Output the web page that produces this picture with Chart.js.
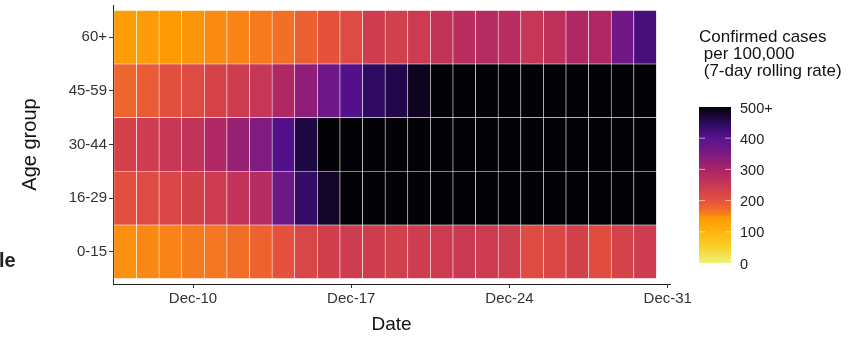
<!DOCTYPE html>
<html lang="en">
<head>
<meta charset="UTF-8">
<title>Confirmed cases per 100,000 by age group</title>
<script src="https://cdn.jsdelivr.net/npm/chart.js"></script>
<style>
  html, body { margin: 0; padding: 0; background: #fff; }
</style>
</head>
<body>
<canvas id="heatmap" width="858" height="338"></canvas>
<script>
// December days shown as tiles
const days = [7, 8, 9, 10, 11, 12, 13, 14, 15, 16, 17, 18, 19, 20, 21, 22, 23, 24, 25, 26, 27, 28, 29, 30];
const ageGroups = ['0-15', '16-29', '30-44', '45-59', '60+'];

// 7-day rolling rate per 100,000 (500 = 500+)
const rate0to15  = [150, 153, 156, 160, 165, 172, 182, 200, 222, 236, 242, 240, 235, 240, 245, 248, 245, 238, 212, 218, 232, 208, 230, 242];
const rate16to29 = [205, 212, 222, 232, 245, 262, 280, 370, 440, 480, 500, 500, 500, 500, 500, 500, 500, 500, 500, 500, 500, 500, 500, 500];
const rate30to44 = [232, 242, 252, 262, 290, 320, 345, 405, 465, 500, 500, 500, 500, 500, 500, 500, 500, 500, 500, 500, 500, 500, 500, 500];
const rate45to59 = [180, 190, 205, 213, 228, 240, 255, 290, 330, 370, 405, 445, 460, 485, 500, 500, 500, 500, 500, 500, 500, 500, 500, 500];
const rate60plus = [138, 141, 144, 147, 152, 155, 160, 170, 185, 200, 212, 240, 235, 245, 262, 275, 280, 275, 255, 268, 290, 290, 365, 420];

const dateTicks = [10, 17, 24, 31];
const legendTicks = [0, 100, 200, 300, 400, 500];

// colour scale (inferno-like, reversed)
const colourStops = [
  [0, '#eef27a'], [50, '#f9d12a'], [100, '#fdb40e'], [145, '#fd9a06'], [160, '#f67a1e'],
  [200, '#e4513c'], [250, '#c93854'], [300, '#a82468'], [350, '#7c1a82'], [400, '#58128e'],
  [450, '#2a0a5c'], [500, '#030206']
];

function hexToRgb(h) {
  return [parseInt(h.slice(1, 3), 16), parseInt(h.slice(3, 5), 16), parseInt(h.slice(5, 7), 16)];
}

function fillFor(v) {
  v = Math.max(0, Math.min(500, v));
  for (let i = 1; i < colourStops.length; i++) {
    const [v1, c1] = colourStops[i];
    if (v <= v1) {
      const [v0, c0] = colourStops[i - 1];
      const t = (v - v0) / (v1 - v0);
      const a = hexToRgb(c0), b = hexToRgb(c1);
      const c = a.map((x, k) => Math.round(x + (b[k] - x) * t));
      return `rgb(${c[0]},${c[1]},${c[2]})`;
    }
  }
  return colourStops[colourStops.length - 1][1];
}

const rows = [rate0to15, rate16to29, rate30to44, rate45to59, rate60plus];
const FONT = '"Liberation Sans", Arial, sans-serif';

const datasets = rows.map((vals, r) => ({
  label: ageGroups[r],
  data: days.map(d => ({ y: r + 1, x: [d - 0.5, d + 0.5] })),
  backgroundColor: vals.map(fillFor),
  borderColor: 'rgba(255,255,255,0.7)',
  borderWidth: 0.6,
  borderSkipped: false,
  grouped: false,
  barPercentage: 1,
  categoryPercentage: 1
}));

// legend: title, colour bar and labels
const colourBar = {
  id: 'colourBar',
  afterDraw(chart) {
    const ctx = chart.ctx;
    const x0 = 699, w = 32, top = 107, bottom = 263;
    ctx.save();
    ctx.fillStyle = '#111';
    ctx.font = '17px ' + FONT;
    ctx.textAlign = 'left';
    ctx.textBaseline = 'alphabetic';
    ctx.fillText('Confirmed cases', 699, 41.5);
    ctx.fillText(' per 100,000', 699, 58.5);
    ctx.fillText(' (7-day rolling rate)', 699, 75.5);

    const grad = ctx.createLinearGradient(0, bottom, 0, top);
    for (let v = 0; v <= 500; v += 5) grad.addColorStop(v / 500, fillFor(v));
    ctx.fillStyle = grad;
    ctx.fillRect(x0, top, w, bottom - top);

    ctx.font = '14.5px ' + FONT;
    ctx.textBaseline = 'middle';
    legendTicks.forEach(v => {
      const y = bottom - (bottom - top) * v / 500;
      ctx.strokeStyle = 'rgba(255,255,255,0.6)';
      ctx.lineWidth = 1;
      if (v > 0 && v < 500) {
        ctx.beginPath();
        ctx.moveTo(x0, y); ctx.lineTo(x0 + 6, y);
        ctx.moveTo(x0 + w - 6, y); ctx.lineTo(x0 + w, y);
        ctx.stroke();
      }
      ctx.fillStyle = '#222';
      ctx.fillText(v === 500 ? '500+' : String(v), 740, y + 1.5);
    });

    // cropped label from the neighbouring panel
    ctx.font = 'bold 20px ' + FONT;
    ctx.textBaseline = 'alphabetic';
    ctx.fillStyle = '#222';
    ctx.fillText('le', -1, 267);
    ctx.restore();
  }
};

new Chart(document.getElementById('heatmap'), {
  type: 'bar',
  data: { datasets },
  plugins: [colourBar],
  options: {
    responsive: false,
    animation: false,
    indexAxis: 'y',
    layout: { padding: { top: 5, right: 188, bottom: 0, left: 0 } },
    plugins: { legend: { display: false }, tooltip: { enabled: false } },
    scales: {
      x: {
        type: 'linear',
        min: 6.46,
        max: 31.1,
        afterBuildTicks: s => { s.ticks = dateTicks.map(v => ({ value: v })); },
        afterFit: s => { s.height = 54; },
        grid: { drawOnChartArea: false, tickLength: 4, color: '#333' },
        border: { color: '#222', width: 1 },
        ticks: { color: '#333', font: { family: FONT, size: 15 }, padding: 2, maxRotation: 0,
                 callback: v => 'Dec-' + v },
        title: { display: true, text: 'Date', color: '#111', font: { family: FONT, size: 19 },
                 padding: { top: 0, bottom: 2 } }
      },
      y: {
        type: 'linear',
        offset: false,
        min: 0.4,
        max: 5.6,
        afterBuildTicks: s => { s.ticks = ageGroups.map((g, i) => ({ value: i + 1 })); },
        afterFit: s => { s.width = 113; s.paddingTop = 0; s.paddingBottom = 0; },
        grid: { offset: false, drawOnChartArea: false, tickLength: 4, color: '#333' },
        border: { color: '#222', width: 1 },
        ticks: { color: '#333', font: { family: FONT, size: 15 }, padding: 2,
                 callback: v => ageGroups[v - 1] },
        title: { display: true, text: 'Age group', color: '#111', font: { family: FONT, size: 20 },
                 padding: { top: 18, bottom: 0 } }
      }
    }
  }
});
</script>
</body>
</html>
